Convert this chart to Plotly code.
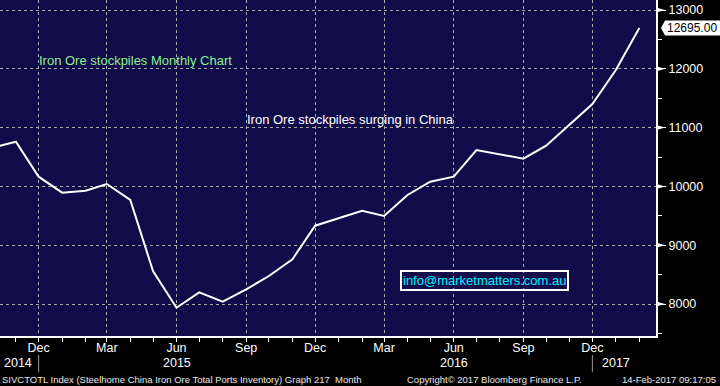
import plotly.graph_objects as go

# ---- data ----
months = ["2014-10-01", "2014-11-01", "2014-12-01", "2015-01-01", "2015-02-01", "2015-03-01",
          "2015-04-01", "2015-05-01", "2015-06-01", "2015-07-01", "2015-08-01", "2015-09-01",
          "2015-10-01", "2015-11-01", "2015-12-01", "2016-01-01", "2016-02-01", "2016-03-01",
          "2016-04-01", "2016-05-01", "2016-06-01", "2016-07-01", "2016-08-01", "2016-09-01",
          "2016-10-01", "2016-11-01", "2016-12-01", "2017-01-01", "2017-02-01"]
inventory = [10658, 10760, 10165, 9893, 9927, 10041,
             9769, 8561, 7937, 8199, 8039, 8250,
             8476, 8760, 9332, 9460, 9587, 9497,
             9854, 10080, 10165, 10619, 10545, 10471,
             10692, 11044, 11401, 11980, 12695]

x_tickvals = ["2014-12-01", "2015-03-01", "2015-06-01", "2015-09-01", "2015-12-01",
              "2016-03-01", "2016-06-01", "2016-09-01", "2016-12-01"]
x_ticktext = ["Dec", "Mar", "Jun", "Sep", "Dec", "Mar", "Jun", "Sep", "Dec"]
y_tickvals = [8000, 9000, 10000, 11000, 12000, 13000]
y_ticktext = ["8000", "9000", "10000", "11000", "12000", "13000"]
year_labels = ["2014", "2015", "2016", "2017"]
year_label_x = ["2014-10-13", "2015-06-01", "2016-06-01", "2017-01-01"]
year_sep_x = ["2014-12-01", "2016-12-01"]

last_value = inventory[-1]

NAVY = "#100C4A"
FONT = "Liberation Sans, Arial, sans-serif"
PLOT_H = 336.0

fig = go.Figure()
fig.add_trace(go.Scatter(x=months, y=inventory, mode="lines",
                         line=dict(color="white", width=2), hoverinfo="skip",
                         showlegend=False))

def py(px_below):
    # convert pixels below the plot bottom to paper coords
    return -px_below / PLOT_H

annotations = [
    dict(x="2014-11-29", y=12138, xref="x", yref="y", text="Iron Ore stockpiles Monthly Chart",
         showarrow=False, xanchor="left", yanchor="middle",
         font=dict(family=FONT, size=13, color="#8CEE8C")),
    dict(x="2015-08-30", y=11141, xref="x", yref="y", text="Iron Ore stockpiles surging in China",
         showarrow=False, xanchor="left", yanchor="middle",
         font=dict(family=FONT, size=13, color="white")),
    dict(x="2016-07-11", y=8408, xref="x", yref="y", text="info@marketmatters.com.au",
         showarrow=False, xanchor="center", yanchor="middle",
         bordercolor="white", borderwidth=2, borderpad=1,
         font=dict(family=FONT, size=13, color="#00F0FF")),
    dict(x=1.0137, y=last_value, xref="paper", yref="y", text=f"{last_value:.2f}",
         showarrow=False, xanchor="left", yanchor="middle",
         font=dict(family=FONT, size=12, color="black")),
]
for lab, lx in zip(year_labels, year_label_x):
    annotations.append(dict(x=lx, y=py(27), xref="x", yref="paper", text=lab,
                            showarrow=False, xanchor="left" if lab == "2014" else "center",
                            yanchor="middle",
                            font=dict(family=FONT, size=12.5, color="white")))

footer_font = dict(family=FONT, size=9.5, color="#E8E8E8")
annotations += [
    dict(x=0.0, y=py(43), xref="paper", yref="paper", xanchor="left", yanchor="middle",
         showarrow=False, font=footer_font,
         text="SIVCTOTL Index (Steelhome China Iron Ore Total Ports Inventory) Graph 217  Month"),
    dict(x=495 / 656, y=py(43), xref="paper", yref="paper", xanchor="center", yanchor="middle",
         showarrow=False, font=footer_font, text="Copyright\u00a9 2017 Bloomberg Finance L.P."),
    dict(x=718 / 656, y=py(43), xref="paper", yref="paper", xanchor="right", yanchor="middle",
         showarrow=False, font=footer_font, text="14-Feb-2017 09:17:05"),
]

shapes = []
for sx in year_sep_x:
    shapes.append(dict(type="line", xref="x", yref="paper", x0=sx, x1=sx,
                       y0=py(19), y1=py(36), line=dict(color="#9A9A9A", width=1)))
# right-axis triangle pointers at the major y ticks
half = 2.6 / 0.0588
for v in y_tickvals:
    shapes.append(dict(type="path", xref="paper", yref="y",
                       path=f"M 1.0,{v - half} L 1.0,{v + half} L {665 / 656},{v} Z",
                       fillcolor="white", line=dict(color="white", width=0)))
# price tag for the last value
th = 7.5 / 0.0588
shapes.append(dict(type="path", xref="paper", yref="y",
                   path=(f"M {661 / 656},{last_value} L {665 / 656},{last_value + th} "
                         f"L {720 / 656},{last_value + th} L {720 / 656},{last_value - th} "
                         f"L {665 / 656},{last_value - th} Z"),
                   fillcolor="white", line=dict(color="white", width=0), layer="above"))

fig.update_layout(
    width=720, height=386,
    margin=dict(l=0, r=64, t=0, b=50, pad=0, autoexpand=False),
    paper_bgcolor="black", plot_bgcolor=NAVY,
    showlegend=False,
    annotations=annotations, shapes=shapes,
    xaxis=dict(type="date", range=["2014-10-11", "2017-02-23"],
               tickmode="array", tickvals=x_tickvals, ticktext=x_ticktext,
               ticks="outside", ticklen=4, tickcolor="white", tickwidth=1,
               ticklabelstandoff=-5,
               showgrid=True, gridcolor="#A8A8A8", griddash="dot", gridwidth=1,
               showline=True, linecolor="white", linewidth=2,
               minor=dict(dtick="M1", ticks="outside", ticklen=4, tickcolor="white", showgrid=False),
               tickfont=dict(family=FONT, size=12.5, color="white"),
               zeroline=False, fixedrange=True),
    yaxis=dict(side="right", range=[7456, 13170],
               tickmode="array", tickvals=y_tickvals, ticktext=y_ticktext,
               ticks="outside", ticklen=8, tickcolor="white", tickwidth=1,
               showgrid=True, gridcolor="#A8A8A8", griddash="dot", gridwidth=1,
               showline=True, linecolor="white", linewidth=2,
               minor=dict(dtick=500, tick0=7500, ticks="outside", ticklen=4, tickcolor="white", showgrid=False),
               tickfont=dict(family=FONT, size=12.5, color="white"),
               zeroline=False, fixedrange=True),
)

fig.write_html("out.html", config={"displayModeBar": False},
               post_script="document.body.style.margin='0';document.body.style.padding='0';")
